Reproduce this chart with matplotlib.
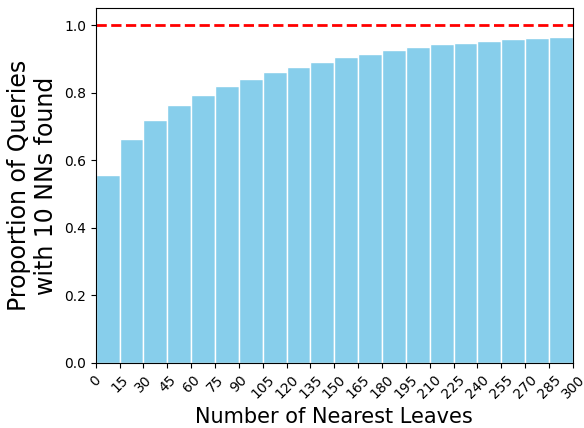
import matplotlib
matplotlib.use("Agg")
import matplotlib.pyplot as plt
import numpy as np

# number of nearest leaves (left edge of each bin)
leaves = list(range(0, 300, 15))
proportion = [0.557, 0.663, 0.720, 0.764, 0.793, 0.821, 0.841, 0.860, 0.875, 0.892,
              0.904, 0.914, 0.926, 0.935, 0.944, 0.947, 0.953, 0.958, 0.963, 0.966]
xticks = list(range(0, 301, 15))

fig, ax = plt.subplots(figsize=(5.84, 4.28), dpi=100)
ax.bar(leaves, proportion, width=15, align="edge", color="skyblue",
       edgecolor="white", linewidth=1)
ax.axhline(1.0, color="red", linestyle="--", linewidth=2)

ax.set_xlim(0, 300)
ax.set_ylim(0, 1.05)
ax.set_xticks(xticks)
ax.set_xticklabels(xticks, rotation=45)
ax.set_xlabel("Number of Nearest Leaves", fontsize=15)
ax.set_ylabel("Proportion of Queries\nwith 10 NNs found", fontsize=17)

plt.subplots_adjust(left=0.164, right=0.981, top=0.981, bottom=0.152)
plt.savefig("out.png")
